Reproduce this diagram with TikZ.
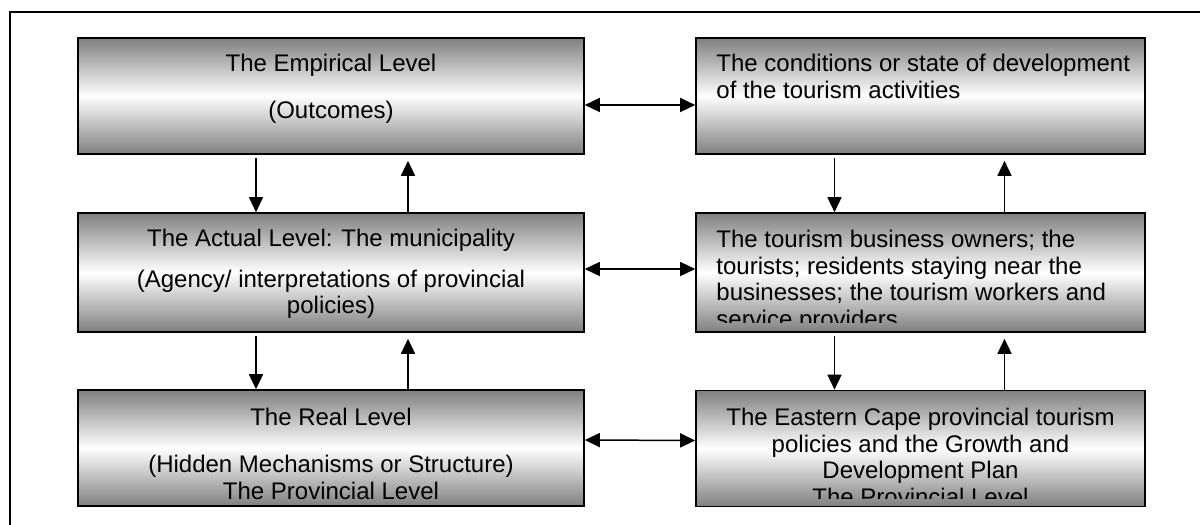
\documentclass[tikz,border=0pt]{standalone}
\usepackage{fontspec}
\setmainfont{Liberation Sans}
\usetikzlibrary{arrows.meta}
\tikzset{
  levelbox/.style={draw=black,line width=0.8pt,top color=black!50,bottom color=black!50,middle color=white,inner sep=0pt,minimum height=58pt},
  lbox/.style={levelbox,minimum width=253pt},
  rbox/.style={levelbox,minimum width=224.5pt},
  boxtext/.style={anchor=north,inner sep=0pt,font={\fontsize{12pt}{13.3pt}\selectfont}},
  flow/.style={-{Triangle[length=7.5pt,width=7pt]},line width=0.75pt},
  twoway/.style={{Triangle[length=7.5pt,width=7pt]}-{Triangle[length=7.5pt,width=7pt]},line width=0.75pt}
}
\begin{document}
\begin{tikzpicture}[x=0.5pt,y=-0.5pt]
  \useasboundingbox (0,0) rectangle (1200,525);
  \draw[line width=1pt] (9.6,525) -- (9.6,11.7) -- (1200,11.7); % frame
  % levels
  \node[lbox] (emp) at (331,96) {};
  \node[lbox,minimum height=59.5pt] (act) at (331,272.5) {};
  \node[lbox] (real) at (331,448) {};
  % tourism side
  \node[rbox] (cond) at (920.5,96) {};
  \node[rbox,minimum height=59.5pt] (tour) at (920.5,272.5) {};
  \node[rbox] (prov) at (920.5,448.5) {};
  % texts
  \node[boxtext,align=center] (empt) at (331,54) {The Empirical Level\\[10.2pt](Outcomes)};
  \node[boxtext,align=center] (actt) at (331,229) {The Actual Level: The municipality\\[7pt](Agency/ interpretations of provincial\\policies)};
  \node[boxtext,align=center] (realt) at (331,408) {The Real Level\\[10.2pt](Hidden Mechanisms or Structure)\\The Provincial Level};
  \node[boxtext,align=left,anchor=north west] (condt) at (716,54) {The conditions or state of development\\of the tourism activities};
  \begin{scope}
    \clip (696,213) rectangle (1145,322);
    \node[boxtext,align=left,anchor=north west] (tourt) at (716,230) {The tourism business owners; the\\tourists; residents staying near the\\businesses; the tourism workers and\\service providers};
  \end{scope}
  \begin{scope}
    \clip (696,390) rectangle (1145,498);
    \node[boxtext,align=center] (provt) at (920.5,408) {The Eastern Cape provincial tourism\\policies and the Growth and\\Development Plan\\The Provincial Level};
  \end{scope}
  % arrows
  \foreach \u/\l/\dx/\ux in {emp/act/-37.5/38.5,act/real/-37.5/38.5,cond/tour/-43/42,tour/prov/-43/42}{
    \draw[flow,shorten <=1.5pt] ([xshift=\dx pt]\u.south) -- ([xshift=\dx pt]\l.north);
    \draw[flow,shorten >=3pt] ([xshift=\ux pt]\l.north) -- ([xshift=\ux pt]\u.south);
  }
  \foreach \a/\b/\dy in {emp/cond/-4.5,act/tour/1.75,real/prov/4}{
    \draw[twoway] ([yshift=\dy pt]\a.east) -- ([yshift=\dy pt]\b.west);
  }
\end{tikzpicture}
\end{document}
